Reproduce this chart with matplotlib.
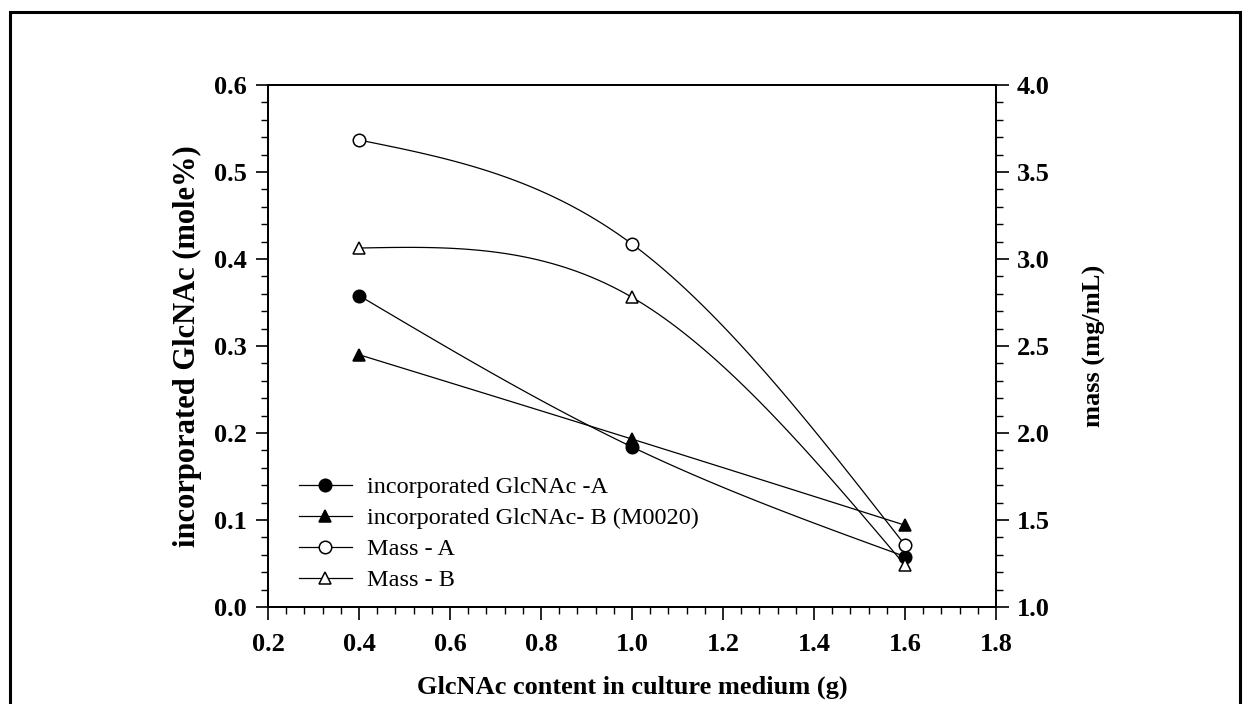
import numpy as np
import matplotlib
matplotlib.use("Agg")
import matplotlib.pyplot as plt
from matplotlib.patches import Rectangle
from matplotlib.ticker import MultipleLocator

plt.rcParams["font.family"] = ["Liberation Serif", "DejaVu Serif"]

# GlcNAc content in culture medium (g)
glcnac_g = [0.4, 1.0, 1.6]

# incorporated GlcNAc (mole%) -- left axis
inc_a = [0.358, 0.184, 0.058]
inc_b = [0.290, 0.193, 0.094]

# mass (mg/mL) -- right axis
mass_a = [3.684, 3.086, 1.356]
mass_b = [3.063, 2.780, 1.240]

labels = ["incorporated GlcNAc -A", "incorporated GlcNAc- B (M0020)",
          "Mass - A", "Mass - B"]


def natural_spline(x, y, n=120):
    # smooth curve through the points, like the original plotting program
    x = np.asarray(x, float)
    y = np.asarray(y, float)
    h = np.diff(x)
    k = len(x)
    A = np.zeros((k, k))
    r = np.zeros(k)
    A[0, 0] = A[-1, -1] = 1.0
    for i in range(1, k - 1):
        A[i, i - 1] = h[i - 1]
        A[i, i] = 2 * (h[i - 1] + h[i])
        A[i, i + 1] = h[i]
        r[i] = 6 * ((y[i + 1] - y[i]) / h[i] - (y[i] - y[i - 1]) / h[i - 1])
    M = np.linalg.solve(A, r)
    xs = np.linspace(x[0], x[-1], n)
    idx = np.clip(np.searchsorted(x, xs) - 1, 0, k - 2)
    x0, x1 = x[idx], x[idx + 1]
    hh = x1 - x0
    a = (x1 - xs) / hh
    b = (xs - x0) / hh
    ys = (a * y[idx] + b * y[idx + 1]
          + ((a ** 3 - a) * M[idx] + (b ** 3 - b) * M[idx + 1]) * hh ** 2 / 6)
    return xs, ys


W, H = 1248, 704
fig = plt.figure(figsize=(W / 100, H / 100), dpi=100)

# outer black frame (bottom edge runs off the picture)
fig.patches.append(Rectangle((10 / W, -0.1), 1230 / W, 1.1 - 12 / H,
                             transform=fig.transFigure, fill=False,
                             ec="black", lw=2.2, zorder=0))

L, R, T, B = 268, 996, 85, 607
ax = fig.add_axes([L / W, 1 - B / H, (R - L) / W, (B - T) / H])
ax2 = ax.twinx()

line_kw = dict(color="black", lw=0.9)
mk_kw = dict(color="black", ms=9, mec="black", mew=1.1, ls="none", zorder=5)

handles = []
for vals, mk, fill, axis in [(inc_a, "o", "black", ax), (inc_b, "^", "black", ax),
                             (mass_a, "o", "white", ax2), (mass_b, "^", "white", ax2)]:
    xs, ys = natural_spline(glcnac_g, vals)
    axis.plot(xs, ys, **line_kw)
    axis.plot(glcnac_g, vals, marker=mk, mfc=fill, **mk_kw)
    h, = ax.plot([], [], marker=mk, mfc=fill, color="black", ms=9, mew=1.1, lw=0.9)
    handles.append(h)

ax.set_xlim(0.2, 1.8)
ax.set_ylim(0.0, 0.6)
ax2.set_ylim(1.0, 4.0)

ax.xaxis.set_major_locator(MultipleLocator(0.2))
ax.xaxis.set_minor_locator(MultipleLocator(0.04))
ax.yaxis.set_major_locator(MultipleLocator(0.1))
ax.yaxis.set_minor_locator(MultipleLocator(0.02))
ax2.yaxis.set_major_locator(MultipleLocator(0.5))
ax2.yaxis.set_minor_locator(MultipleLocator(0.1))
ax.xaxis.set_major_formatter("{x:.1f}")
ax.yaxis.set_major_formatter("{x:.1f}")
ax2.yaxis.set_major_formatter("{x:.1f}")

for a in (ax, ax2):
    a.tick_params(which="major", direction="out", length=9, width=1.2,
                  labelsize=19, pad=6)
    a.tick_params(which="minor", direction="out", length=5, width=1.0)
    for s in a.spines.values():
        s.set_linewidth(1.3)
    for t in a.get_xticklabels() + a.get_yticklabels():
        t.set_fontweight("bold")
ax.tick_params(axis="x", pad=10)

ax.set_xlabel("GlcNAc content in culture medium (g)", fontsize=19,
              fontweight="bold", labelpad=14)
ax.set_ylabel("incorporated GlcNAc (mole%)", fontsize=22,
              fontweight="bold", labelpad=9)
ax2.set_ylabel("mass (mg/mL)", fontsize=19, fontweight="bold", labelpad=24)

ax.legend(handles, labels, loc="lower left", bbox_to_anchor=(0.042, 0.03),
          frameon=False, fontsize=17.5, handlelength=2.2, handletextpad=0.62,
          labelspacing=0.37, borderpad=0, borderaxespad=0)

fig.savefig("out.png", dpi=100, facecolor="white")
